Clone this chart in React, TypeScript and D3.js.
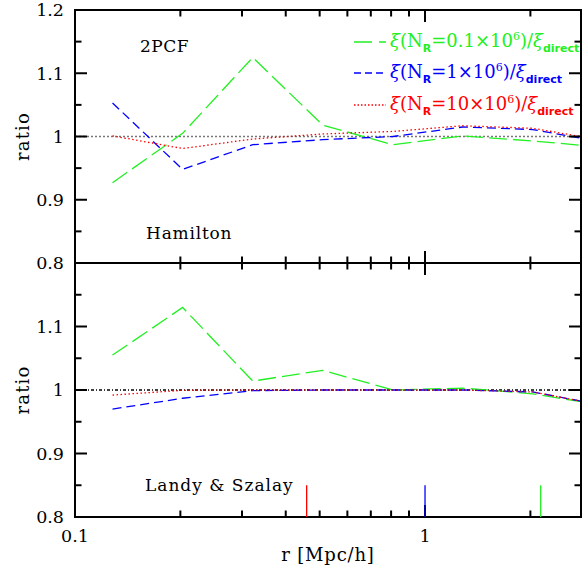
import React from "react";
import * as d3 from "d3";

// ---- data ----
const rBins = [0.128, 0.203, 0.322, 0.51, 0.81, 1.28, 2.03, 3.22];
const hamiltonGreen = [0.927, 1.005, 1.125, 1.018, 0.987, 1.001, 0.993, 0.983];
const hamiltonBlue = [1.053, 0.948, 0.987, 0.995, 1.0, 1.015, 1.011, 0.991];
const hamiltonRed = [1.001, 0.981, 0.996, 1.004, 1.008, 1.017, 1.013, 0.994];
const landyGreen = [1.055, 1.13, 1.014, 1.031, 1.0, 1.003, 0.994, 0.976];
const landyBlue = [0.97, 0.987, 0.999, 1.0, 1.0, 1.0, 0.997, 0.976];
const landyRed = [0.992, 0.9995, 1.0, 1.0, 1.0, 1.0, 0.997, 0.976];
const markerR = [0.459, 1.0, 2.14];
const markerTop = 0.85;
const xMajorTicks = [0.1, 1];
const xMinorTicks = [0.2, 0.3, 0.4, 0.5, 0.6, 0.7, 0.8, 0.9, 2];
const yMajorTicks = [0.8, 0.9, 1.0, 1.1, 1.2];
const yMinorTicks = [0.85, 0.95, 1.05, 1.15];
const xTickLabels = ["0.1", "1"];
const topYLabels = ["0.8", "0.9", "1", "1.1", "1.2"];
const bottomYLabels = ["0.8", "0.9", "1", "1.1"];

const GREEN = "#22f022";
const BLUE = "#0000ff";
const RED = "#ff0000";

const L = 75, R = 581, T = 10, MID = 263, B = 517;
const FONT = "DejaVu Serif";

const x = d3.scaleLog().domain([0.1, 2.79]).range([L, R]);
const yTop = d3.scaleLinear().domain([0.8, 1.2]).range([MID, T]);
const yBot = d3.scaleLinear().domain([0.8, 1.2]).range([B, MID]);

const seriesStyles = [
  { color: GREEN, dash: "18,6" },
  { color: BLUE, dash: "9,5" },
  { color: RED, dash: "1.5,2.5" },
];

function Panel({ y, data, top, bottom, yLabels, refStroke, refDash, clipId }: any) {
  const line = d3
    .line<number>()
    .x((_, i) => x(rBins[i]))
    .y((d) => y(d));
  const MAJ = 12, MIN = 6.5;
  return (
    <g>
      <defs>
        <clipPath id={clipId}>
          <rect x={L} y={top} width={R - L} height={bottom - top} />
        </clipPath>
      </defs>
      <g clipPath={`url(#${clipId})`}>
        <line x1={L} x2={R} y1={y(1)} y2={y(1)} stroke={refStroke} strokeWidth={1.3} strokeDasharray={refDash} />
        {data.map((vals: number[], i: number) => (
          <path key={i} d={line(vals) || ""} fill="none" stroke={seriesStyles[i].color} strokeWidth={1.3} strokeDasharray={seriesStyles[i].dash} />
        ))}
      </g>
      {xMajorTicks.map((t, i) => (
        <g key={"xM" + i}>
          <line x1={x(t)} x2={x(t)} y1={bottom} y2={bottom - MAJ} stroke="#000" strokeWidth={2} />
          <line x1={x(t)} x2={x(t)} y1={top} y2={top + MAJ} stroke="#000" strokeWidth={2} />
        </g>
      ))}
      {xMinorTicks.map((t, i) => (
        <g key={"xm" + i}>
          <line x1={x(t)} x2={x(t)} y1={bottom} y2={bottom - MIN} stroke="#000" strokeWidth={2} />
          <line x1={x(t)} x2={x(t)} y1={top} y2={top + MIN} stroke="#000" strokeWidth={2} />
        </g>
      ))}
      {yMajorTicks.map((t, i) => (
        <g key={"yM" + i}>
          <line x1={L} x2={L + MAJ} y1={y(t)} y2={y(t)} stroke="#000" strokeWidth={2} />
          <line x1={R} x2={R - MAJ} y1={y(t)} y2={y(t)} stroke="#000" strokeWidth={2} />
        </g>
      ))}
      {yMinorTicks.map((t, i) => (
        <g key={"ym" + i}>
          <line x1={L} x2={L + MIN} y1={y(t)} y2={y(t)} stroke="#000" strokeWidth={2} />
          <line x1={R} x2={R - MIN} y1={y(t)} y2={y(t)} stroke="#000" strokeWidth={2} />
        </g>
      ))}
      {yLabels.map((lab: string) => (
        <text key={lab} x={64} y={y(+lab)} dy="0.36em" textAnchor="end" fontFamily={FONT} fontSize={17.5}>
          {lab}
        </text>
      ))}
      <text transform={`translate(29,${(top + bottom) / 2}) rotate(-90)`} textAnchor="middle" fontFamily={FONT} fontSize={18} letterSpacing={1.2}>
        ratio
      </text>
      <rect x={L} y={top} width={R - L} height={bottom - top} fill="none" stroke="#000" strokeWidth={2} />
    </g>
  );
}

function LegendRow({ yText, color, dash, prefix }: any) {
  const sub = { fontFamily: "DejaVu Sans", fontWeight: "bold" as const, fontSize: 11 };
  return (
    <g fill={color}>
      <line x1={354} x2={386} y1={yText - 5} y2={yText - 5} stroke={color} strokeWidth={1.3} strokeDasharray={dash} />
      <text x={390} y={yText} fontFamily={FONT} fontSize={18}>
        <tspan fontStyle="italic">ξ</tspan>
        <tspan>(N</tspan>
        <tspan dy={5} {...sub}>R</tspan>
        <tspan dy={-5}>={prefix}×10</tspan>
        <tspan dy={-7} fontSize={11}>6</tspan>
        <tspan dy={7}>)/</tspan>
        <tspan fontStyle="italic">ξ</tspan>
        <tspan dy={5} {...sub}>direct</tspan>
      </text>
    </g>
  );
}

export default function App() {
  return (
    <svg width={582} height={569} style={{ position: "absolute", left: 0, top: 0 }}>
      <rect width={582} height={569} fill="#fff" />
      <Panel y={yTop} data={[hamiltonGreen, hamiltonBlue, hamiltonRed]} top={T} bottom={MID} yLabels={topYLabels} refStroke="#777" refDash="2,2" clipId="c1" />
      <Panel y={yBot} data={[landyGreen, landyBlue, landyRed]} top={MID} bottom={B} yLabels={bottomYLabels} refStroke="#000" refDash="3,2,1,2" clipId="c2" />
      {markerR.map((r, i) => (
        <line key={i} x1={x(r)} x2={x(r)} y1={yBot(0.8)} y2={yBot(markerTop)} stroke={[RED, BLUE, GREEN][i]} strokeWidth={1.3} />
      ))}
      {xMajorTicks.map((t, i) => (
        <text key={i} x={x(t)} y={542} textAnchor="middle" fontFamily={FONT} fontSize={17.5}>
          {xTickLabels[i]}
        </text>
      ))}
      <text x={328} y={561} textAnchor="middle" fontFamily={FONT} fontSize={18} letterSpacing={0.8}>r [Mpc/h]</text>
      <text x={140} y={52} fontFamily={FONT} fontSize={17} letterSpacing={0.5}>2PCF</text>
      <text x={146} y={239} fontFamily={FONT} fontSize={17} letterSpacing={0.8}>Hamilton</text>
      <text x={145} y={491} fontFamily={FONT} fontSize={17} letterSpacing={1.0}>Landy &amp; Szalay</text>
      <LegendRow yText={47} color={GREEN} dash="18,7" prefix="0.1" />
      <LegendRow yText={78} color={BLUE} dash="7,4" prefix="1" />
      <LegendRow yText={110} color={RED} dash="1.5,2" prefix="10" />
    </svg>
  );
}
